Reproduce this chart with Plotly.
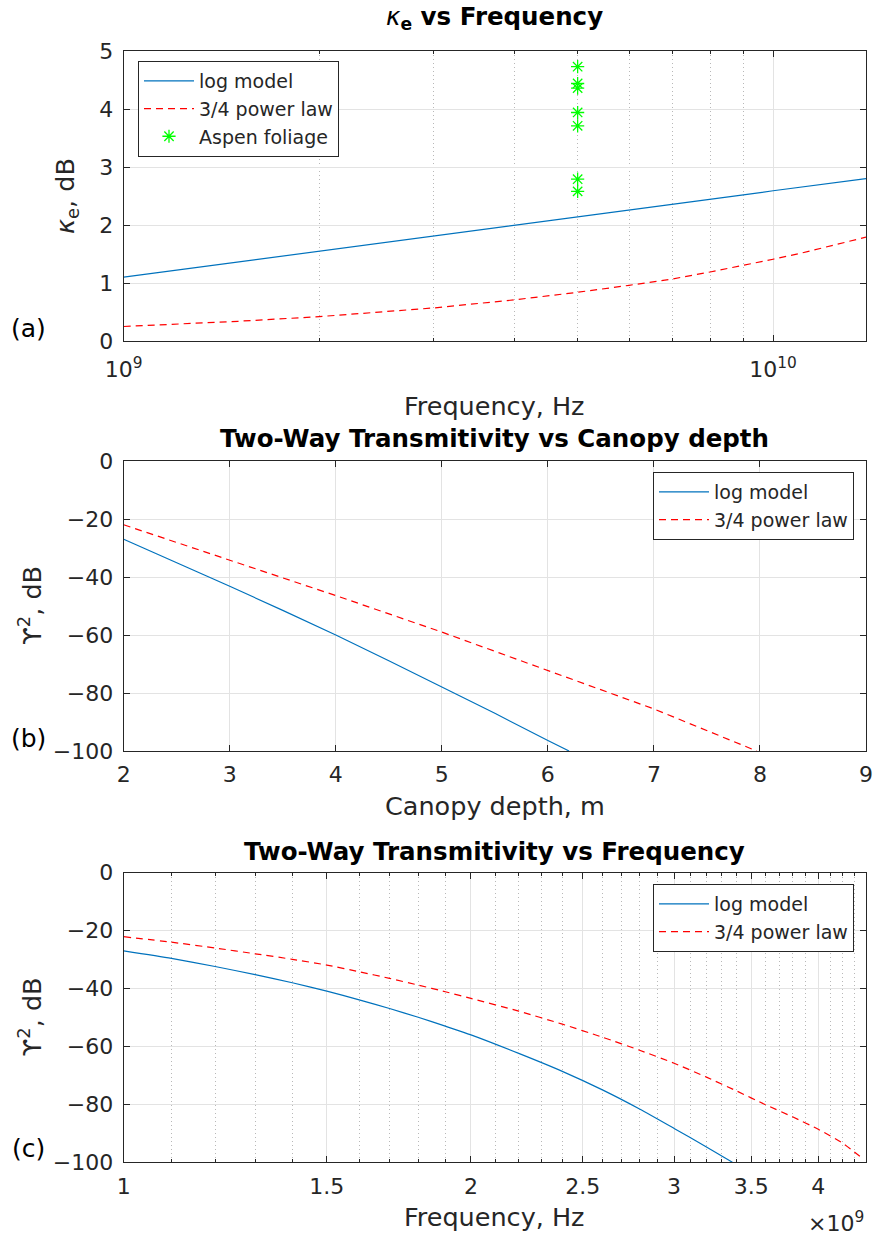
import math
import plotly.graph_objects as go

# ---------------- data ----------------
# (a) kappa_e vs frequency
freq_a_ghz = [1, 1.5, 2, 2.5, 3, 4, 5, 6, 7, 8, 9, 10, 11, 12, 13.9]
kappa_log = [1.10, 1.36, 1.55, 1.69, 1.81, 2.00, 2.14, 2.26, 2.36, 2.44, 2.52, 2.59, 2.65, 2.70, 2.80]
kappa_pow = [0.25, 0.34, 0.42, 0.50, 0.57, 0.71, 0.84, 0.96, 1.07, 1.19, 1.30, 1.41, 1.51, 1.61, 1.79]
aspen_freq_ghz = [5, 5, 5, 5, 5, 5, 5]
aspen_kappa = [4.73, 4.44, 4.36, 3.94, 3.71, 2.79, 2.58]

# (b) two-way transmissivity vs canopy depth
depth_log = [2, 2.5, 3, 3.5, 4, 4.5, 5, 5.5, 6, 6.2]
trans_log_depth = [-27, -35, -43.2, -51.5, -60, -68.9, -78, -87, -96.4, -100]
depth_pow = [2, 3, 4, 5, 6, 7, 7.97]
trans_pow_depth = [-22, -34.1, -46.4, -59, -72.2, -85.5, -100]

# (c) two-way transmissivity vs frequency
freq_c_log_ghz = [1, 1.1, 1.2, 1.3, 1.4, 1.5, 1.6, 1.7, 1.8, 1.9, 2, 2.2, 2.4, 2.6, 2.8, 3.0, 3.2, 3.37]
trans_log_freq = [-27, -29.6, -32.4, -35.2, -38, -40.9, -43.9, -46.9, -49.9, -53, -56,
                  -62.4, -68.6, -75, -81.6, -88.3, -94.7, -100]
freq_c_pow_ghz = [1, 1.1, 1.2, 1.3, 1.4, 1.5, 1.6, 1.7, 1.8, 1.9, 2, 2.2, 2.4, 2.6, 2.8,
                  3.0, 3.2, 3.4, 3.6, 3.8, 4.0, 4.2, 4.38]
trans_pow_freq = [-22.1, -24, -26, -28, -29.9, -31.9, -34.2, -36.5, -38.8, -41.1, -43.4,
                  -47.8, -52.3, -56.8, -61.3, -65.8, -70.6, -75.4, -80.1, -84.3, -88.6, -93.4, -99]

# tick labels
a_xticks_hz = [1e9, 1e10]
a_xticktext = ["10<sup>9</sup>", "10<sup>10</sup>"]
c_xticks_ghz = [1, 1.5, 2, 2.5, 3, 3.5, 4]
c_xticktext = ["1", "1.5", "2", "2.5", "3", "3.5", "4"]

names = ["log model", "3/4 power law", "Aspen foliage"]

# ---------------- style ----------------
W, H = 874, 1237
FONT = "DejaVu Sans"
TXT = "#262626"
BLUE = "#0072BD"
RED = "#FF0000"
GREEN = "#00FF00"
GRID = "#e3e3e3"
MINOR = "#b8b8b8"
AX = "#262626"
DASH = "7px,5px"

L, R = 123.7, 866.0
PANELS = [(51.0, 341.0), (461.0, 751.0), (872.7, 1162.3)]


def px(x):
    return x / W


def py(y):
    return 1 - y / H


def ydom(p):
    t, b = PANELS[p]
    return [py(b), py(t)]


G = lambda v: [f * 1e9 for f in v]

fig = go.Figure()

# (a)
fig.add_trace(go.Scatter(x=G(freq_a_ghz), y=kappa_log, mode="lines", name=names[0],
                         line=dict(color=BLUE, width=1.2), xaxis="x", yaxis="y", legend="legend"))
fig.add_trace(go.Scatter(x=G(freq_a_ghz), y=kappa_pow, mode="lines", name=names[1],
                         line=dict(color=RED, width=1.2, dash=DASH), xaxis="x", yaxis="y", legend="legend"))
fig.add_trace(go.Scatter(x=G(aspen_freq_ghz), y=aspen_kappa, mode="markers", name=names[2],
                         marker=dict(symbol="asterisk-open", size=11, color=GREEN,
                                     line=dict(color=GREEN, width=1.3)),
                         xaxis="x", yaxis="y", legend="legend"))
# (b)
fig.add_trace(go.Scatter(x=depth_log, y=trans_log_depth, mode="lines", name=names[0],
                         line=dict(color=BLUE, width=1.2), xaxis="x2", yaxis="y2", legend="legend2"))
fig.add_trace(go.Scatter(x=depth_pow, y=trans_pow_depth, mode="lines", name=names[1],
                         line=dict(color=RED, width=1.2, dash=DASH), xaxis="x2", yaxis="y2", legend="legend2"))
# (c)
fig.add_trace(go.Scatter(x=G(freq_c_log_ghz), y=trans_log_freq, mode="lines", name=names[0],
                         line=dict(color=BLUE, width=1.2, shape="spline", smoothing=0.6),
                         xaxis="x3", yaxis="y3", legend="legend3"))
fig.add_trace(go.Scatter(x=G(freq_c_pow_ghz), y=trans_pow_freq, mode="lines", name=names[1],
                         line=dict(color=RED, width=1.2, dash=DASH, shape="spline", smoothing=0.6),
                         xaxis="x3", yaxis="y3", legend="legend3"))

common_axis = dict(showline=True, linecolor=AX, linewidth=1, mirror="ticks",
                   ticks="inside", ticklen=6, tickcolor=AX, tickwidth=1,
                   showgrid=True, gridcolor=GRID, gridwidth=1, zeroline=False,
                   tickfont=dict(family=FONT, size=22, color=TXT), automargin=False,
                   ticklabeloverflow="allow")
y_extra = dict(ticklabelstandoff=5)

a_minor = [k * 1e9 for k in range(2, 10)]
c_minor = [round(1 + 0.1 * k, 1) * 1e9 for k in range(1, 34)
           if round(1 + 0.1 * k, 1) not in c_xticks_ghz]

minor_common = dict(ticks="inside", ticklen=3, tickcolor=AX, showgrid=True,
                    gridcolor=MINOR, griddash="1px,3px", gridwidth=1)

fig.update_layout(
    width=W, height=H, margin=dict(l=0, r=0, t=0, b=0),
    paper_bgcolor="white", plot_bgcolor="white",
    font=dict(family=FONT, color=TXT),
    xaxis=dict(common_axis, type="log", range=[9, math.log10(1.39e10)], domain=[px(L), px(R)],
               anchor="y", tickmode="array", tickvals=a_xticks_hz, ticktext=a_xticktext,
               minor=dict(minor_common, tickvals=a_minor), ticklabelstandoff=9),
    yaxis=dict(common_axis, **y_extra, range=[0, 5], dtick=1, domain=ydom(0), anchor="x"),
    xaxis2=dict(common_axis, range=[2, 9], dtick=1, domain=[px(L), px(R)], anchor="y2",
                ticklabelstandoff=4),
    yaxis2=dict(common_axis, **y_extra, range=[-100, 0], dtick=20, domain=ydom(1), anchor="x2"),
    xaxis3=dict(common_axis, type="log", range=[9, math.log10(4.40e9)], domain=[px(L), px(R)],
                anchor="y3", tickmode="array", tickvals=G(c_xticks_ghz), ticktext=c_xticktext,
                minor=dict(minor_common, tickvals=c_minor), ticklabelstandoff=4),
    yaxis3=dict(common_axis, **y_extra, range=[-100, 0], dtick=20, domain=ydom(2), anchor="x3"),
    showlegend=True,
)

leg_common = dict(bgcolor="white", bordercolor=AX, borderwidth=1,
                  font=dict(family=FONT, size=19, color=TXT), itemwidth=50,
                  tracegroupgap=0, itemclick=False, itemdoubleclick=False)
fig.update_layout(
    legend=dict(leg_common, x=px(138), y=py(61), xanchor="left", yanchor="top"),
    legend2=dict(leg_common, x=px(854), y=py(472), xanchor="right", yanchor="top"),
    legend3=dict(leg_common, x=px(854), y=py(884), xanchor="right", yanchor="top"),
)

cx = px((L + R) / 2)
ann = []
titles = [("<i>κ</i><sub><b>e</b></sub><b> vs Frequency</b>", 18),
          ("<b>Two-Way Transmitivity vs Canopy depth</b>", 439),
          ("<b>Two-Way Transmitivity vs Frequency</b>", 852)]
for t, y in titles:
    ann.append(dict(text=t, x=cx, y=py(y), xref="paper", yref="paper", showarrow=False,
                    xanchor="center", yanchor="middle",
                    font=dict(family=FONT, size=24.5, color="#000000")))
xlabels = [("Frequency, Hz", 406), ("Canopy depth, m", 806), ("Frequency, Hz", 1217)]
for t, y in xlabels:
    ann.append(dict(text=t, x=cx, y=py(y), xref="paper", yref="paper", showarrow=False,
                    xanchor="center", yanchor="middle",
                    font=dict(family=FONT, size=25.5, color=TXT)))
ylabels = [("<i>κ</i><sub>e</sub>, dB", 66, 0), ("ϒ<sup>2</sup>, dB", 30, 1), ("ϒ<sup>2</sup>, dB", 30, 2)]
for t, x, p in ylabels:
    t0, b0 = PANELS[p]
    ann.append(dict(text=t, x=px(x), y=py((t0 + b0) / 2), xref="paper", yref="paper",
                    showarrow=False, textangle=-90, xanchor="center", yanchor="middle",
                    font=dict(family=FONT, size=25.5, color=TXT)))
plabels = [("(a)", 328), ("(b)", 738), ("(c)", 1148)]
for t, y in plabels:
    ann.append(dict(text=t, x=px(28.5), y=py(y), xref="paper", yref="paper", showarrow=False,
                    xanchor="center", yanchor="middle",
                    font=dict(family=FONT, size=25, color="#000000")))
ann.append(dict(text="×10<sup>9</sup>", x=px(R), y=py(1222), xref="paper", yref="paper",
                showarrow=False, xanchor="right", yanchor="middle",
                font=dict(family=FONT, size=22, color=TXT)))
fig.update_layout(annotations=ann)

fig.write_html("out.html", config={"displayModeBar": False},
               post_script="document.body.style.margin='0px';document.body.style.padding='0px';")
